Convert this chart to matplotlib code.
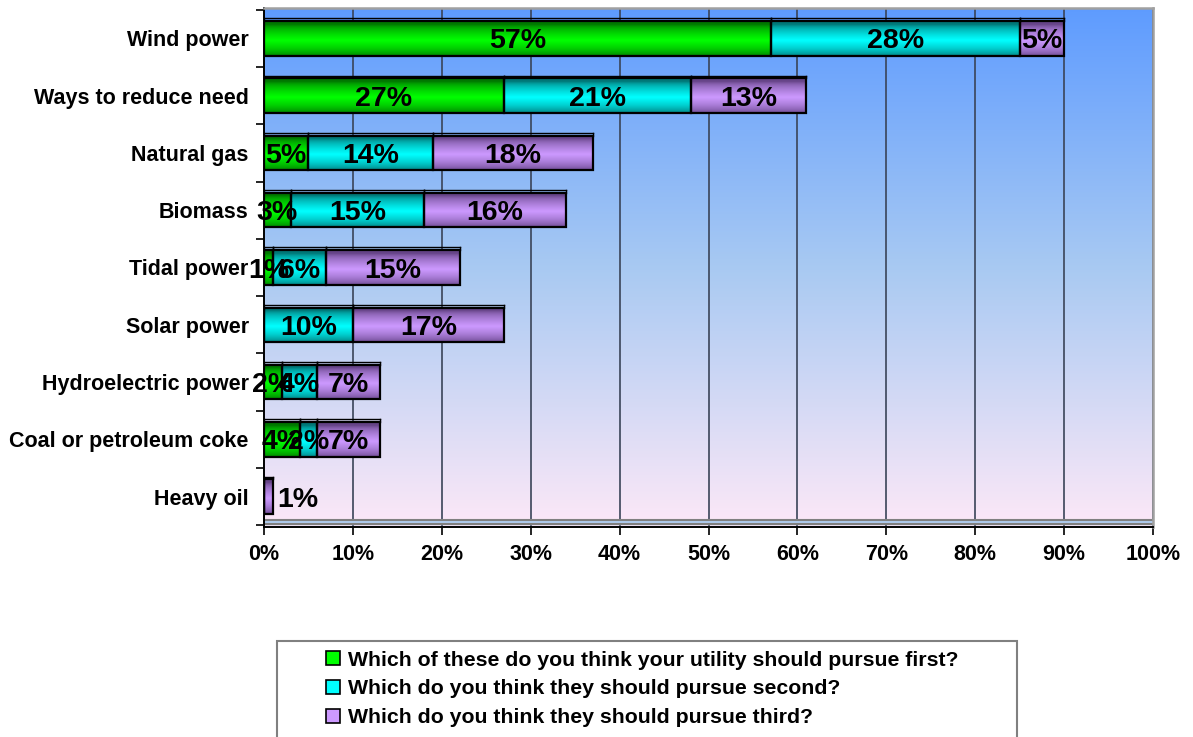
import matplotlib
matplotlib.use('Agg')
import matplotlib.pyplot as plt
import numpy as np
from matplotlib.lines import Line2D
from matplotlib.patches import Rectangle
from matplotlib.colors import to_rgb

plt.rcParams['font.family'] = ['Liberation Sans', 'DejaVu Sans']
plt.rcParams['font.weight'] = 'bold'

# %% data
categories = ['Wind power', 'Ways to reduce need', 'Natural gas', 'Biomass',
              'Tidal power', 'Solar power', 'Hydroelectric power',
              'Coal or petroleum coke', 'Heavy oil']
first = [57, 27, 5, 3, 1, 0, 2, 4, 0]
second = [28, 21, 14, 15, 6, 10, 4, 2, 0]
third = [5, 13, 18, 16, 15, 17, 7, 7, 1]
series_names = ['Which of these do you think your utility should pursue first?',
                'Which do you think they should pursue second?',
                'Which do you think they should pursue third?']
xticks = np.arange(0, 101, 10)

colors = ['#00FF00', '#00FFFF', '#CC99FF']
dark = ['#007700', '#007777', '#664488']


def shade(ax, bar, c, d):
    # vertical gradient inside a bar, dark at the edges
    c = np.array(to_rgb(c))
    d = np.array(to_rgb(d))
    t = np.linspace(0, 1, 40)
    prof = np.clip(1 - np.abs(t - 0.55) * 2.2, 0, 1) ** 0.6
    grad = d[None, :] + (c - d)[None, :] * prof[:, None]
    x0, y0 = bar.get_x(), bar.get_y()
    w, h = bar.get_width(), bar.get_height()
    im = ax.imshow(grad[:, None, :], extent=[x0, x0 + w, y0 + h, y0],
                   aspect='auto', zorder=3, interpolation='bilinear')
    im.set_clip_path(bar)


fig = plt.figure(figsize=(11.93, 7.37), dpi=100)
ax = fig.add_axes([264 / 1193, 1 - 527 / 737, (1153 - 264) / 1193, (527 - 8) / 737])

# background gradient
stops = np.array([[0.37, 0.61, 1.0], [0.66, 0.79, 0.95], [0.99, 0.91, 0.97]])
tt = np.linspace(0, 1, 200)
bg = np.stack([np.interp(tt, [0, 0.5, 1], stops[:, k]) for k in range(3)], axis=1)
ax.imshow(bg[:, None, :], extent=[0, 1, 0, 1], transform=ax.transAxes,
          aspect='auto', zorder=0, interpolation='bilinear')

y = np.arange(len(categories))
left = np.zeros(len(categories))
for vals, c, d in zip([first, second, third], colors, dark):
    vals = np.array(vals, dtype=float)
    bars = ax.barh(y, vals, left=left, height=0.6, color=c,
                   edgecolor='black', linewidth=1.6, zorder=4)
    for b, v, l, yy in zip(bars, vals, left, y):
        if v <= 0:
            continue
        b.set_facecolor('none')
        shade(ax, b, c, d)
        # thin 3D top strip
        ax.plot([l, l + v], [yy - 0.35, yy - 0.35], color='black', lw=1.0, zorder=4)
        ax.plot([l, l], [yy - 0.35, yy - 0.3], color='black', lw=1.0, zorder=4)
        ax.plot([l + v, l + v], [yy - 0.35, yy - 0.3], color='black', lw=1.0, zorder=4)
        if l == 0 and v < 2 and categories[yy] == 'Heavy oil':
            ax.text(l + v + 0.5, yy, f'{v:.0f}%', ha='left', va='center_baseline',
                    fontsize=20.5, fontweight='bold', zorder=6)
        else:
            ax.text(l + v / 2, yy, f'{v:.0f}%', ha='center', va='center_baseline',
                    fontsize=20.5, fontweight='bold', zorder=6)
    left = left + vals

# floor strip
ax.axhspan(8.40, 8.48, color='#B0CCEE', zorder=2)
ax.axhline(8.40, color='#808080', lw=1.5, zorder=2)
ax.axhline(8.48, color='#808080', lw=1.5, zorder=2)

for xv in xticks[1:]:
    ax.axvline(xv, color='#3A4458', lw=1.2, zorder=1)

ax.set_xlim(0, 100)
ax.set_ylim(8.53, -0.53)
ax.set_xticks(xticks)
ax.set_xticklabels([f'{v}%' for v in xticks], fontsize=15.5, fontweight='bold')
ax.set_yticks(y)
ax.set_yticklabels(categories, fontsize=15.5, fontweight='bold')
ax.set_yticks(np.arange(-0.5, 8.6, 1), minor=True)
ax.tick_params(axis='y', which='major', length=0, pad=11)
ax.tick_params(axis='y', which='minor', length=6, width=1.2, direction='out')
ax.tick_params(axis='x', length=6, width=1.2, pad=6)

for s in ['top', 'right']:
    ax.spines[s].set_color('#A0A0A0')
    ax.spines[s].set_linewidth(1.8)
ax.spines['left'].set_linewidth(1.4)
ax.spines['bottom'].set_linewidth(1.4)

# legend box (runs off the bottom edge)
fig.patches.append(Rectangle((277 / 1193, -0.05), (1017 - 277) / 1193, 1 - 641 / 737 + 0.05,
                             transform=fig.transFigure, facecolor='white',
                             edgecolor='#808080', linewidth=1.5))
handles = [Line2D([], [], marker='s', linestyle='none', markersize=10,
                  markerfacecolor=c, markeredgecolor='black', markeredgewidth=1.2)
           for c in colors]
fig.legend(handles, series_names, loc='upper left',
           bbox_to_anchor=(314 / 1193, 1 - 640 / 737), frameon=False,
           prop={'size': 15.3, 'weight': 'bold'}, handlelength=0.8,
           handletextpad=0.3, labelspacing=0.46, borderpad=0)

fig.savefig('out.png', dpi=100)
